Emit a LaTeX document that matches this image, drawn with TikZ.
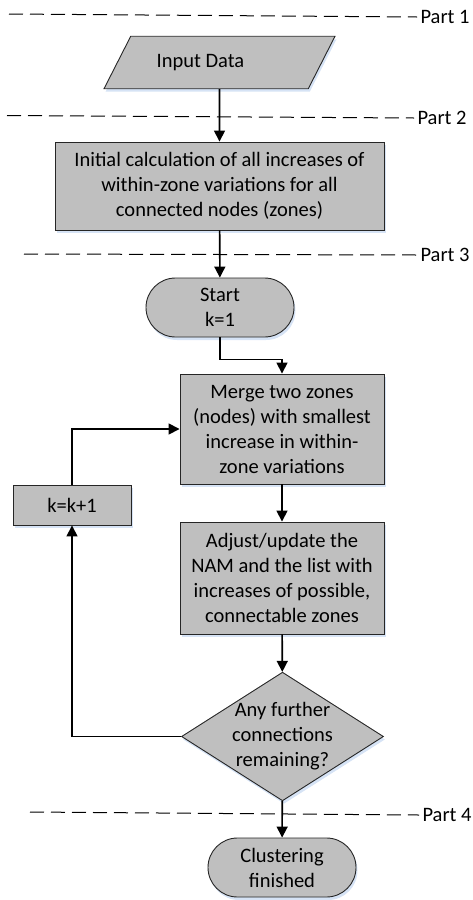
\documentclass[tikz,border=0pt]{standalone}
\usepackage{fontspec}
\setmainfont{Carlito}
\usetikzlibrary{shapes.geometric,shapes.misc,shadows,arrows.meta}
\definecolor{boxgray}{HTML}{BFBFBF}
\definecolor{shadowblue}{HTML}{D6E3F5}
\begin{document}
\begin{tikzpicture}[x=1pt,y=-1pt,
  font=\fontsize{20.5}{25}\selectfont,
  shade/.style={general shadow={fill=shadowblue, shadow xshift=1.5pt, shadow yshift=-3pt}},
  base/.style={draw=black!85, line width=0.9pt, fill=boxgray, align=center, inner sep=0pt, shade},
  procbox/.style={base, rectangle},
  termbox/.style={base, rounded rectangle, minimum width=148pt, minimum height=59pt},
  iobox/.style={base, trapezium, trapezium left angle=63, trapezium right angle=117,
    inner ysep=18pt, trapezium stretches body=true},
  decbox/.style={base, diamond, aspect=1.57, inner sep=-1pt},
  flow/.style={line width=1.6pt, -{Triangle[width=11pt,length=11pt]}},
  partline/.style={line width=1pt, dash pattern=on 14pt off 7pt}]
\useasboundingbox (0,0) rectangle (472,900);
\node[iobox, minimum width=231pt] (inp) at (219.5,62.5) {Input Data\hspace*{38pt}};
\node[procbox, minimum width=329pt, minimum height=88pt] (init) at (219.5,186) {Initial calculation of all increases of\\within-zone variations for all\\connected nodes (zones)};
\node[termbox] (start) at (220,307.5) {Start\\k=1};
\node[procbox, minimum width=204pt, minimum height=110pt] (merge) at (282,429) {Merge two zones\\(nodes) with smallest\\increase in within-\\zone variations};
\node[procbox, minimum width=118pt, minimum height=40pt] (inc) at (72,505) {k=k+1};
\node[procbox, minimum width=204pt, minimum height=112pt] (adjust) at (282,578) {Adjust/update the\\NAM and the list with\\increases of possible,\\connectable zones};
\node[decbox] (cond) at (282.5,736.5) {Any further\\connections\\remaining?};
\node[termbox] (fin) at (282,867.5) {Clustering\\finished};
\node[anchor=west] (part1) at (417,17) {Part 1};
\node[anchor=west] (part2) at (414,118) {Part 2};
\node[anchor=west] (part3) at (417,255) {Part 3};
\node[anchor=west] (part4) at (419,815) {Part 4};
\coordinate (p1) at (9,14);
\coordinate (p2) at (7,115.5);
\coordinate (p3) at (24,254);
\coordinate (p4) at (30,812);
\draw[partline] (p1) -- (part1.west);
\draw[partline] (p2) -- (part2.west);
\draw[partline] (p3) -- (part3.west);
\draw[partline] (p4) -- (part4.west);
\draw[flow] (inp) -- (init);
\draw[flow] (init) -- (start);
\draw[flow] (start.south) -- ++(0,22) -| (merge.north);
\draw[flow] (merge) -- (adjust);
\draw[flow] (adjust) -- (cond);
\draw[flow] (cond) -- (fin);
\draw[flow] (cond.west) -| (inc.south);
\draw[flow] (inc.north) |- (merge.west);
\end{tikzpicture}
\end{document}
